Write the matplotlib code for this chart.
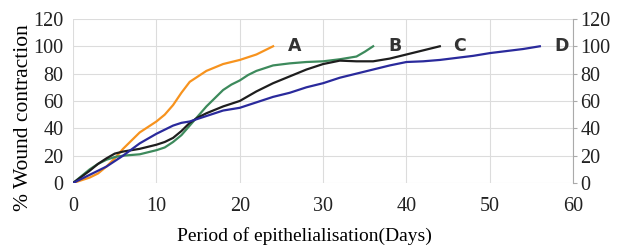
import numpy as np
import matplotlib.pyplot as plt

# days / % wound contraction
days_a = [0, 2, 3, 4, 5, 6, 7, 8, 9, 10, 11, 12, 13, 14, 15, 16, 18, 20, 22, 24]
wc_a = [0, 4, 7, 12, 18, 25, 31, 37, 41, 45, 50, 57, 66, 74, 78, 82, 87, 90, 94, 100]

days_b = [0, 2, 3, 4, 5, 6, 8, 10, 11, 12, 13, 14, 15, 16, 17, 18, 19, 20, 21, 22, 24, 26, 28, 30, 32, 34, 35, 36]
wc_b = [0, 10, 14, 17, 19, 20, 21, 24, 26, 30, 35, 42, 49, 56, 62, 68, 72, 75, 79, 82, 86, 87.5, 88.5, 89, 90.5, 92.5, 96, 100]

days_c = [0, 2, 3, 4, 5, 6, 8, 10, 11, 12, 13, 14, 15, 16, 18, 20, 22, 24, 26, 28, 30, 32, 34, 36, 38, 40, 42, 44]
wc_c = [0, 9, 14, 18, 21.5, 23, 25, 28, 30, 33, 38, 44, 48, 51, 56, 60, 67, 73, 78, 83, 87, 89.5, 89, 89, 91, 94, 97, 100]

days_d = [0, 2, 4, 6, 8, 10, 12, 13, 14, 16, 18, 20, 22, 24, 26, 28, 30, 32, 34, 36, 38, 40, 42, 44, 46, 48, 50, 52, 54, 56]
wc_d = [0, 6, 12, 20, 29, 36, 42, 44, 45, 49, 53, 55, 59, 63, 66, 70, 73, 77, 80, 83, 86, 88.5, 89, 90, 91.5, 93, 95, 96.5, 98, 100]

labels = ["A", "B", "C", "D"]
label_x = [26.6, 38.6, 46.4, 58.6]

plt.rcParams['font.family'] = 'Liberation Serif'

fig = plt.figure(figsize=(6.19, 2.49), dpi=100)
ax = fig.add_axes([0.118, 0.265, 0.808, 0.659])

ax.plot(days_a, wc_a, color='#f7931e', lw=1.6)
ax.plot(days_b, wc_b, color='#3d8a5c', lw=1.6)
ax.plot(days_c, wc_c, color='#1e1e1e', lw=1.6)
ax.plot(days_d, wc_d, color='#2a2a9c', lw=1.6)

for lab, lx in zip(labels, label_x):
    ax.text(lx, 100, lab, fontsize=12.5, fontweight='bold', family='DejaVu Sans',
            color='#333333', ha='center', va='center')

ax.set_xlim(0, 60)
ax.set_ylim(0, 120)
ax.set_xticks(range(0, 61, 10))
ax.set_yticks(range(0, 121, 20))
ax.grid(True, color='#dcdcdc', lw=0.8)
ax.set_axisbelow(True)
for s in ['top', 'left', 'bottom']:
    ax.spines[s].set_visible(False)
ax.spines['right'].set_color('#aaaaaa')
ax.tick_params(axis='both', length=0, labelsize=14.5, colors='#222222')
ax.tick_params(axis='x', pad=10)
ax.tick_params(axis='y', pad=7)

ax2 = ax.twinx()
ax2.set_ylim(0, 120)
ax2.set_yticks(range(0, 121, 20))
for s in ['top', 'left', 'bottom', 'right']:
    ax2.spines[s].set_visible(False)
ax2.tick_params(axis='y', length=3, color='#aaaaaa', labelsize=14.5, labelcolor='#222222', pad=2)

ax.set_ylabel('% Wound contraction', fontsize=15.5)
ax.yaxis.set_label_coords(-0.08, 0.40)
ax.set_xlabel('Period of epithelialisation(Days)', fontsize=14)
ax.xaxis.set_label_coords(0.462, -0.27)

fig.savefig('out.png', dpi=100)
